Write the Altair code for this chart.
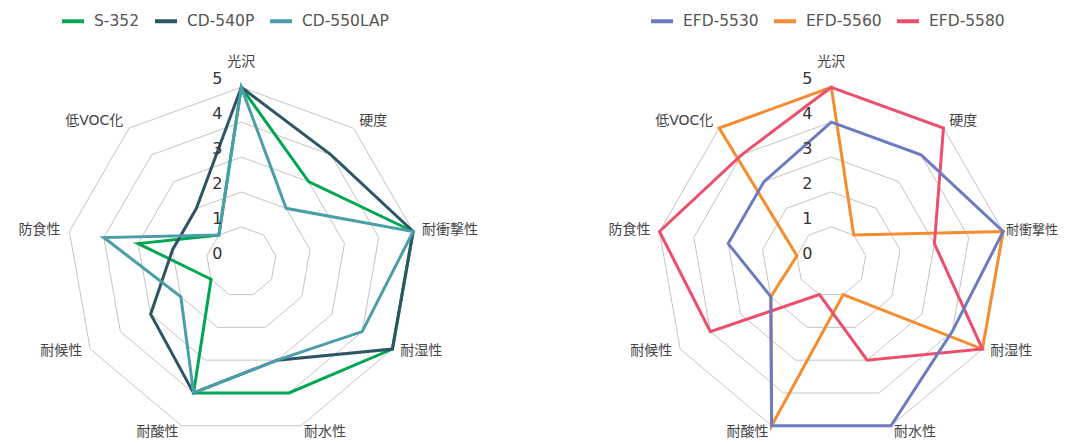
import altair as alt
import pandas as pd

# ---------------- data ----------------
categories = ["光沢", "硬度", "耐衝撃性", "耐湿性", "耐水性", "耐酸性", "耐候性", "防食性", "低VOC化"]
levels = [1, 2, 3, 4, 5]
level_labels = [0, 1, 2, 3, 4, 5]

left_series = ["S-352", "CD-540P", "CD-550LAP"]
s352 = [5, 3, 5, 5, 4, 4, 1, 3, 1]
cd540p = [5, 4, 5, 5, 3, 4, 3, 2, 2]
cd550lap = [5, 2, 5, 4, 3, 4, 2, 4, 1]
left_values = [s352, cd540p, cd550lap]
left_colors = ["#00a651", "#2e5566", "#4a9ea8"]

right_series = ["EFD-5530", "EFD-5560", "EFD-5580"]
efd5530 = [4, 4, 5, 4, 5, 5, 2, 3, 3]
efd5560 = [5, 1, 5, 5, 1, 5, 2, 1, 5]
efd5580 = [5, 5, 3, 5, 3, 1, 4, 5, 4]
right_values = [efd5530, efd5560, efd5580]
right_colors = ["#6b7bbf", "#f68b2f", "#ec4f6d"]
right_draw_order = ["EFD-5560", "EFD-5580", "EFD-5530"]

# ---------------- layout ----------------
UNIT = 34.9
H = 436
CX, CY = 233.3, 253.8
YDOM = [-(H - CY) / UNIT, CY / UNIT]
MIXED = "DejaVu Sans, Noto Sans CJK JP"
N = len(categories)
ANG = f"datum.idx * 2 * PI / {N}"
R = 5.26


def xenc(width):
    dom = [-CX / UNIT, (width - CX) / UNIT]
    return alt.X("x:Q", scale=alt.Scale(domain=dom, nice=False, zero=False), axis=None)


def yenc():
    return alt.Y("y:Q", scale=alt.Scale(domain=YDOM, nice=False, zero=False), axis=None)


def panel(names, values, colors, draw_order, legend_x, width, tight_idx=None):
    rows = []
    for name, vals in zip(names, values):
        for i, (c, v) in enumerate(zip(categories, vals)):
            rows.append({"series": name, "category": c, "idx": i, "value": v})
    df = pd.DataFrame(rows)

    grid_df = pd.DataFrame(
        [{"level": lv, "idx": i} for lv in levels for i in range(N)]
    )
    grid = (
        alt.Chart(grid_df)
        .transform_calculate(a=ANG)
        .transform_calculate(x="datum.level * sin(datum.a)", y="datum.level * cos(datum.a)")
        .mark_line(interpolate="linear-closed", stroke="#c4c4c4", strokeWidth=1)
        .encode(x=xenc(width), y=yenc(), detail="level:N", order="idx:Q")
    )

    color = alt.Color(
        "series:N",
        scale=alt.Scale(domain=names, range=colors),
        legend=alt.Legend(
            title=None,
            orient="none",
            legendX=legend_x,
            legendY=0,
            direction="horizontal",
            symbolType="stroke",
            symbolStrokeWidth=4,
            symbolSize=484,
            labelFont="DejaVu Sans",
            labelFontSize=15.5,
            labelColor="#555555",
            labelOffset=8,
            columnPadding=7,
            padding=0,
        ),
    )

    line_layers = []
    for name in draw_order:
        line_layers.append(
            alt.Chart(df)
            .transform_filter(alt.datum.series == name)
            .transform_calculate(a=ANG)
            .transform_calculate(x="datum.value * sin(datum.a)", y="datum.value * cos(datum.a)")
            .mark_line(interpolate="linear-closed", strokeWidth=3)
            .encode(x=xenc(width), y=yenc(), color=color, order="idx:Q")
        )

    lvl_df = pd.DataFrame({"lv": level_labels})
    lvl_text = (
        alt.Chart(lvl_df)
        .transform_calculate(x="0", y="datum.lv")
        .mark_text(font="DejaVu Sans", fontSize=16, color="#333333", dx=-24, dy=-8)
        .encode(x=xenc(width), y=yenc(), text="lv:Q")
    )

    cat_df = pd.DataFrame({"category": categories, "idx": list(range(N))})
    cat_base = alt.Chart(cat_df).transform_calculate(a=ANG).transform_calculate(
        s="sin(datum.a)", c="cos(datum.a)"
    ).transform_calculate(x=f"{R} * datum.s", y=f"{R} * datum.c + (datum.c < 0 ? 0.06 : 0)")
    tight = -1 if tight_idx is None else tight_idx
    right_lbl = (
        cat_base.transform_filter(f"datum.s > 0.1 && datum.idx != {tight}")
        .mark_text(font=MIXED, fontSize=14, color="#444444", align="left", baseline="middle")
        .encode(x=xenc(width), y=yenc(), text="category:N")
    )
    left_lbl = (
        cat_base.transform_filter("datum.s < -0.1")
        .mark_text(font=MIXED, fontSize=14, color="#444444", align="right", baseline="middle")
        .encode(x=xenc(width), y=yenc(), text="category:N")
    )
    top_lbl = (
        cat_base.transform_filter("abs(datum.s) <= 0.1")
        .transform_calculate(y="5.52")
        .mark_text(font=MIXED, fontSize=14, color="#444444", align="center", baseline="bottom")
        .encode(x=xenc(width), y=yenc(), text="category:N")
    )
    layers = [grid, *line_layers, lvl_text, right_lbl, left_lbl, top_lbl]
    if tight_idx is not None:
        layers.append(
            cat_base.transform_filter(f"datum.idx == {tight}")
            .mark_text(font=MIXED, fontSize=13, color="#444444", align="left", baseline="middle", dx=-6)
            .encode(x=xenc(width), y=yenc(), text="category:N")
        )

    return alt.layer(*layers).properties(width=width, height=H)


left = panel(left_series, left_values, left_colors, left_series, 52, 466)
right = panel(right_series, right_values, right_colors, right_draw_order, 51, 461, tight_idx=2)

chart = (
    alt.hconcat(left, right, spacing=124, bounds="flush")
    .resolve_scale(color="independent")
    .resolve_legend(color="independent")
    .properties(padding=0)
    .configure_view(stroke=None)
)

chart.save("out.html", embed_options={"renderer": "svg", "actions": False})
